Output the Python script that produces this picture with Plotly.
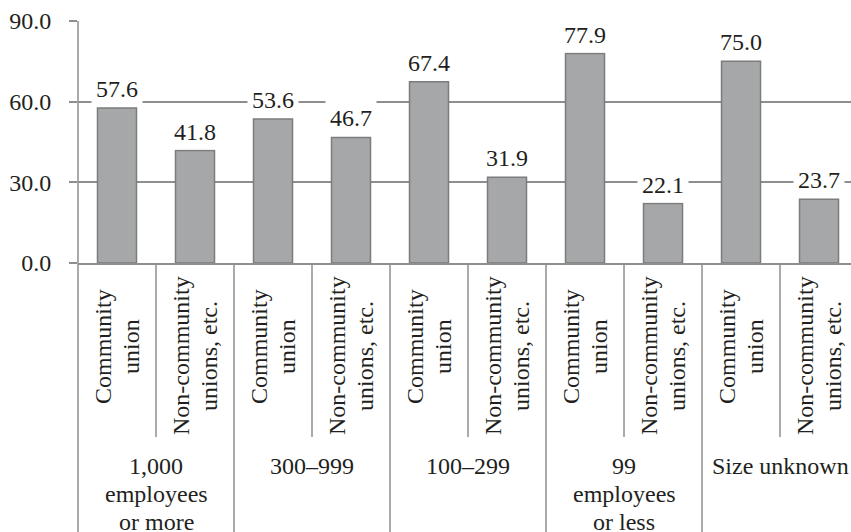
import plotly.graph_objects as go

# Establishment size groups and union types
groups = ["1,000<br>employees<br>or more", "300–999", "100–299",
          "99<br>employees<br>or less", "Size unknown"]
union_types = ["Community<br>union", "Non-community<br>unions, etc."]

# Share (%) by group
community = [57.6, 53.6, 67.4, 77.9, 75.0]
non_community = [41.8, 46.7, 31.9, 22.1, 23.7]

y_ticks = [0, 30, 60, 90]

# Interleave the two series along a single numeric category axis
values = []
for c, n in zip(community, non_community):
    values += [c, n]
xs = list(range(len(values)))

FONT = "'Times New Roman', 'Liberation Serif', serif"
FS = 24
TXT = "#231f20"
GRID = "#8e8e8e"
W, H = 851, 532
L, T, B = 78, 21, 269
plot_h = H - T - B
x_min, x_max = -0.5, 9.41
cat_px = (W - L) / (x_max - x_min)   # pixels per category
LINE = 28                            # line pitch of multi-line labels


def py(px):
    """Pixel row -> paper y."""
    return (H - B - px) / plot_h


def pxr(xv):
    """Data x -> paper x."""
    return (xv - x_min) / (x_max - x_min)


fig = go.Figure(go.Bar(
    x=xs, y=values, width=0.5,
    marker=dict(color="#a6a7a9", line=dict(color="#7b7c7e", width=1.5)),
    hoverinfo="y",
))

font = dict(family=FONT, size=FS, color=TXT)
annotations = []
# value labels above the bars
for xv, v in zip(xs, values):
    annotations.append(dict(
        x=xv, y=v, xref="x", yref="y", text=f"{v:.1f}", showarrow=False,
        yanchor="middle", yshift=19, bgcolor="white", borderpad=4, font=font))

# rotated union-type labels, one annotation per text line
centers = [347, 356]
for xv in xs:
    k = xv % 2
    lines = union_types[k].split("<br>")
    n = len(lines)
    for i, ln in enumerate(lines):
        off = (i - (n - 1) / 2) * LINE / cat_px
        annotations.append(dict(
            x=xv + off, y=py(centers[k]), xref="x", yref="paper", text=ln,
            textangle=-90, showarrow=False, xanchor="center",
            yanchor="middle", font=font))

# group labels, one annotation per text line
for g, label in enumerate(groups):
    for i, ln in enumerate(label.split("<br>")):
        annotations.append(dict(
            x=2 * g + 0.5, y=py(466 + i * LINE), xref="x", yref="paper",
            text=ln, showarrow=False, xanchor="center", yanchor="middle",
            font=font))

shapes = []
# left axis line running through the label area
shapes.append(dict(type="line", xref="paper", yref="paper", x0=0, x1=0,
                   y0=1, y1=py(H + 5), line=dict(color=GRID, width=1.5)))
# separators between categories and between groups
for k in range(1, len(values) + 1):
    xp = pxr(k - 0.5)
    if xp > 1:
        continue
    bottom = py(H + 5) if k % 2 == 0 else py(437)
    shapes.append(dict(type="line", xref="paper", yref="paper", x0=xp, x1=xp,
                       y0=0, y1=bottom, line=dict(color=GRID, width=1.5)))

fig.update_layout(
    width=W, height=H, margin=dict(l=L, r=0, t=T, b=B),
    paper_bgcolor="white", plot_bgcolor="white", showlegend=False,
    font=font,
    xaxis=dict(range=[x_min, x_max], showticklabels=False, showgrid=False,
               zeroline=False, showline=True, linecolor=GRID, linewidth=1.5,
               ticks=""),
    yaxis=dict(range=[0, 90], tickvals=y_ticks, tickformat=".1f",
               showgrid=True, gridcolor=GRID, gridwidth=1.5, zeroline=False,
               showline=False, ticks="outside", ticklen=8, tickcolor=GRID,
               tickwidth=1.5, ticklabelstandoff=13, tickfont=font),
    annotations=annotations, shapes=shapes,
)

fig.write_html("out.html")
